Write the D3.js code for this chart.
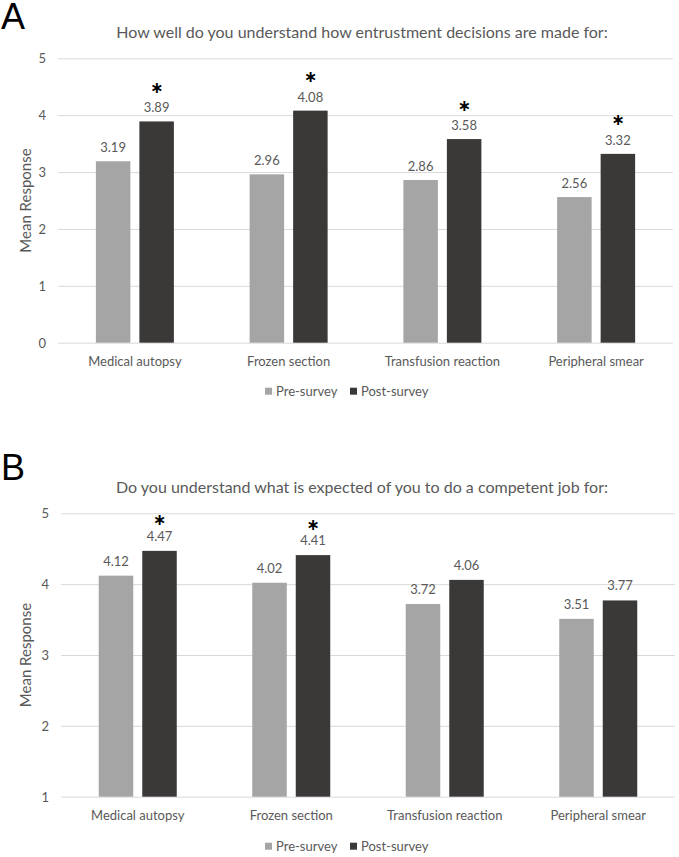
<!DOCTYPE html>
<html>
<head>
<meta charset="utf-8">
<script src="https://cdn.jsdelivr.net/npm/d3@7"></script>
<style>
  body { margin: 0; background: #fff; }
  text { font-family: Lato, "Open Sans", sans-serif; fill: #595959; }
</style>
</head>
<body>
<div id="vis"></div>
<script>
// Chart data
const CATEGORIES = ["Medical autopsy", "Frozen section", "Transfusion reaction", "Peripheral smear"];
const SERIES = ["Pre-survey", "Post-survey"];
const COLORS = ["#a5a5a5", "#3b3838"];

const A_PRE = [3.19, 2.96, 2.86, 2.56];
const A_POST = [3.89, 4.08, 3.58, 3.32];
const A_SIG = [true, true, true, true];
const A_TICKS = [0, 1, 2, 3, 4, 5];

const B_PRE = [4.12, 4.02, 3.72, 3.51];
const B_POST = [4.47, 4.41, 4.06, 3.77];
const B_SIG = [true, true, false, false];
const B_TICKS = [1, 2, 3, 4, 5];

const FRAME_WIDTH = 679;
const FRAME_HEIGHT = 857;

const FRAME = d3.select("#vis")
  .append("svg")
    .attr("width", FRAME_WIDTH)
    .attr("height", FRAME_HEIGHT);

// Draw one panel of grouped bars
function drawPanel(p) {
  const g = FRAME.append("g");

  const X0 = d3.scaleBand()
    .domain(CATEGORIES)
    .range([p.left, p.right])
    .padding(0);

  const GROUP_W = 78;
  const X1 = d3.scaleBand()
    .domain(SERIES)
    .range([0, GROUP_W])
    .paddingInner(0.207);

  const Y = d3.scaleLinear()
    .domain([p.ticks[0], p.ticks[p.ticks.length - 1]])
    .range([p.bottom, p.top]);

  // panel letter
  g.append("text")
    .attr("x", 1)
    .attr("y", p.letterY)
    .style("font-family", "'Liberation Sans', Arial, sans-serif")
    .style("font-size", "36px")
    .style("fill", "#000")
    .text(p.letter);

  // title
  g.append("text")
    .attr("x", 362)
    .attr("y", p.titleY)
    .attr("text-anchor", "middle")
    .attr("dominant-baseline", "central")
    .style("font-size", "16px")
    .text(p.title);

  // grid lines
  g.selectAll(".grid")
    .data(p.ticks)
    .enter()
    .append("line")
      .attr("x1", p.left)
      .attr("x2", p.right)
      .attr("y1", (d) => Y(d) + 0.5)
      .attr("y2", (d) => Y(d) + 0.5)
      .attr("stroke", "#d9d9d9")
      .attr("stroke-width", 1);

  // y tick labels
  g.selectAll(".ytick")
    .data(p.ticks)
    .enter()
    .append("text")
      .attr("x", p.left - 12)
      .attr("y", (d) => Y(d))
      .attr("text-anchor", "end")
      .attr("dominant-baseline", "central")
      .style("font-size", "13px")
      .text((d) => d);

  // y axis title
  g.append("text")
    .attr("transform", "translate(25," + ((p.top + p.bottom) / 2) + ") rotate(-90)")
    .attr("text-anchor", "middle")
    .attr("dominant-baseline", "central")
    .style("font-size", "15px")
    .text("Mean Response");

  // bars
  const rows = CATEGORIES.map((c, i) => ({cat: c, vals: [p.pre[i], p.post[i]], sig: p.sig[i]}));
  const groups = g.selectAll(".grp")
    .data(rows)
    .enter()
    .append("g")
      .attr("transform", (d) => "translate(" + (X0(d.cat) + (X0.bandwidth() - GROUP_W) / 2) + ",0)");

  groups.selectAll("rect")
    .data((d) => d.vals.map((v, j) => ({s: SERIES[j], v: v, j: j})))
    .enter()
    .append("rect")
      .attr("x", (d) => X1(d.s))
      .attr("y", (d) => Y(d.v))
      .attr("width", X1.bandwidth())
      .attr("height", (d) => Y(p.ticks[0]) - Y(d.v))
      .attr("fill", (d) => COLORS[d.j]);

  // value labels
  groups.selectAll(".val")
    .data((d) => d.vals.map((v, j) => ({s: SERIES[j], v: v})))
    .enter()
    .append("text")
      .attr("x", (d) => X1(d.s) + X1.bandwidth() / 2)
      .attr("y", (d) => Y(d.v) - p.valGap)
      .attr("text-anchor", "middle")
      .attr("dominant-baseline", "central")
      .style("font-size", "13px")
      .text((d) => d.v.toFixed(2));

  // significance asterisks over post bars
  groups.filter((d) => d.sig)
    .append("text")
      .attr("x", X1("Post-survey") + X1.bandwidth() / 2)
      .attr("y", (d) => Y(d.vals[1]) - p.starGap)
      .attr("text-anchor", "middle")
      .attr("dominant-baseline", "central")
      .style("font-family", "'DejaVu Sans', sans-serif")
      .style("font-size", "16px")
      .style("font-weight", "bold")
      .style("fill", "#000")
      .text("\u2217");

  // category labels
  g.selectAll(".xlab")
    .data(CATEGORIES)
    .enter()
    .append("text")
      .attr("x", (d) => X0(d) + X0.bandwidth() / 2)
      .attr("y", p.bottom + 18)
      .attr("text-anchor", "middle")
      .attr("dominant-baseline", "central")
      .style("font-size", "13px")
      .text((d) => d);

  // legend
  const legX = [265, 350];
  const leg = g.selectAll(".leg")
    .data(SERIES)
    .enter()
    .append("g")
      .attr("transform", (d, i) => "translate(" + legX[i] + "," + (p.bottom + p.legendGap) + ")");
  leg.append("rect")
    .attr("x", 0)
    .attr("y", -3.5)
    .attr("width", 7)
    .attr("height", 7)
    .attr("fill", (d, i) => COLORS[i]);
  leg.append("text")
    .attr("x", 11)
    .attr("y", 0)
    .attr("dominant-baseline", "central")
    .style("font-size", "13px")
    .text((d) => d);
}

drawPanel({
  letter: "A", letterY: 29, titleY: 31.7,
  title: "How well do you understand how entrustment decisions are made for:",
  left: 58, right: 673, top: 58.3, bottom: 342.7,
  ticks: A_TICKS, pre: A_PRE, post: A_POST, sig: A_SIG,
  valGap: 14, starGap: 34, legendGap: 48.5
});

drawPanel({
  letter: "B", letterY: 480, titleY: 486.7,
  title: "Do you understand what is expected of you to do a competent job for:",
  left: 61, right: 675, top: 513.3, bottom: 796.7,
  ticks: B_TICKS, pre: B_PRE, post: B_POST, sig: B_SIG,
  valGap: 15, starGap: 31, legendGap: 49.5
});
</script>
</body>
</html>
